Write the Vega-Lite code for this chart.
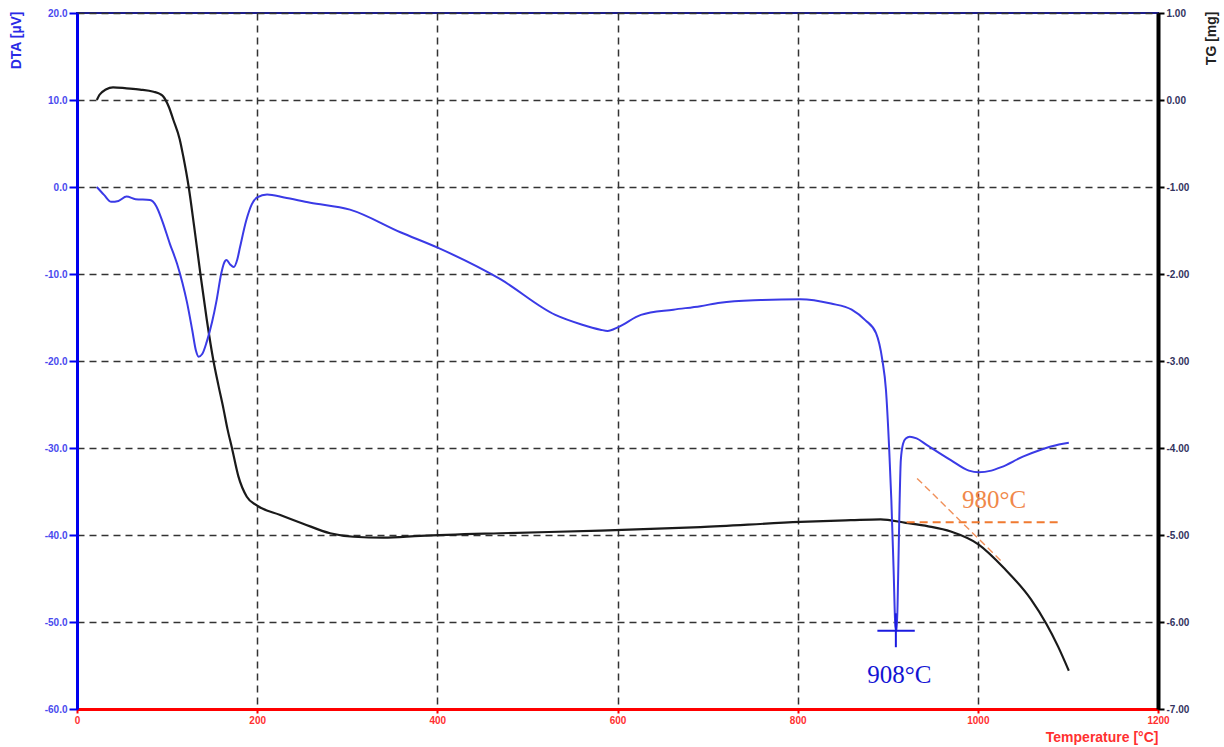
{
  "$schema": "https://vega.github.io/schema/vega-lite/v6.json",
  "width": 1081,
  "height": 696,
  "autosize": {"type": "none"},
  "padding": {"left": 77, "top": 13, "right": 66, "bottom": 38},
  "background": "white",
  "config": {
    "view": {"stroke": "#1c1c8a", "strokeWidth": 2},
    "font": "Liberation Sans"
  },
  "datasets": {
    "dta": [
      {"T": 22, "v": 0.0}, {"T": 30, "v": -0.9}, {"T": 38, "v": -1.7}, {"T": 46, "v": -1.6},
      {"T": 55, "v": -1.1}, {"T": 65, "v": -1.4}, {"T": 81, "v": -1.5}, {"T": 88, "v": -2.2},
      {"T": 95, "v": -4.0}, {"T": 103, "v": -6.5}, {"T": 111, "v": -8.8}, {"T": 117, "v": -11.0},
      {"T": 122, "v": -13.2}, {"T": 128, "v": -16.5}, {"T": 132, "v": -18.8}, {"T": 135, "v": -19.5},
      {"T": 139, "v": -19.2}, {"T": 144, "v": -17.8}, {"T": 150, "v": -15.5}, {"T": 155, "v": -13.0},
      {"T": 160, "v": -10.0}, {"T": 163, "v": -8.8}, {"T": 166, "v": -8.4}, {"T": 170, "v": -8.9},
      {"T": 174, "v": -9.2}, {"T": 178, "v": -8.3}, {"T": 181, "v": -6.9}, {"T": 188, "v": -3.8},
      {"T": 194, "v": -2.0}, {"T": 200, "v": -1.2}, {"T": 211, "v": -0.85}, {"T": 230, "v": -1.2},
      {"T": 259, "v": -1.8}, {"T": 303, "v": -2.6}, {"T": 359, "v": -5.2}, {"T": 401, "v": -7.0},
      {"T": 470, "v": -10.6}, {"T": 531, "v": -14.7}, {"T": 560, "v": -15.8}, {"T": 581, "v": -16.4},
      {"T": 589, "v": -16.55}, {"T": 601, "v": -16.1}, {"T": 626, "v": -14.7}, {"T": 662, "v": -14.1},
      {"T": 692, "v": -13.7}, {"T": 714, "v": -13.3}, {"T": 759, "v": -13.0}, {"T": 803, "v": -12.9},
      {"T": 837, "v": -13.4}, {"T": 860, "v": -14.1}, {"T": 875, "v": -15.3}, {"T": 887, "v": -16.8},
      {"T": 894, "v": -19.9}, {"T": 898, "v": -23.3}, {"T": 901.5, "v": -29.9}, {"T": 904, "v": -36},
      {"T": 906.5, "v": -44}, {"T": 908.5, "v": -50.5}, {"T": 910, "v": -51.0}, {"T": 911.5, "v": -45},
      {"T": 913, "v": -37}, {"T": 914.5, "v": -31.4}, {"T": 917, "v": -29.5}, {"T": 920, "v": -28.9},
      {"T": 924.5, "v": -28.7}, {"T": 932, "v": -28.9}, {"T": 944, "v": -29.7}, {"T": 970, "v": -31.4},
      {"T": 990, "v": -32.6}, {"T": 1001, "v": -32.8}, {"T": 1015, "v": -32.6}, {"T": 1026, "v": -32.2},
      {"T": 1050, "v": -31.0}, {"T": 1070, "v": -30.2}, {"T": 1090, "v": -29.6}, {"T": 1101, "v": -29.4}
    ],
    "tg": [
      {"T": 22, "v": 0.0}, {"T": 25, "v": 0.06}, {"T": 32, "v": 0.12}, {"T": 40, "v": 0.146},
      {"T": 55, "v": 0.134}, {"T": 70, "v": 0.12}, {"T": 85, "v": 0.095}, {"T": 92, "v": 0.07},
      {"T": 96, "v": 0.038}, {"T": 102, "v": -0.08}, {"T": 107, "v": -0.23}, {"T": 114, "v": -0.45},
      {"T": 118, "v": -0.65}, {"T": 124, "v": -1.0}, {"T": 130, "v": -1.45}, {"T": 137, "v": -2.0},
      {"T": 144, "v": -2.52}, {"T": 151.5, "v": -3.0}, {"T": 157, "v": -3.28}, {"T": 162.6, "v": -3.55},
      {"T": 167, "v": -3.78}, {"T": 172, "v": -4.0}, {"T": 179, "v": -4.32}, {"T": 188.5, "v": -4.56},
      {"T": 199.6, "v": -4.66}, {"T": 225.6, "v": -4.77}, {"T": 251, "v": -4.87}, {"T": 281, "v": -4.98},
      {"T": 307, "v": -5.02}, {"T": 340, "v": -5.03}, {"T": 381, "v": -5.01}, {"T": 470, "v": -4.98},
      {"T": 581, "v": -4.95}, {"T": 692, "v": -4.91}, {"T": 803, "v": -4.85}, {"T": 859, "v": -4.83},
      {"T": 892, "v": -4.82}, {"T": 920, "v": -4.86}, {"T": 945, "v": -4.9}, {"T": 970, "v": -4.96},
      {"T": 1001, "v": -5.11}, {"T": 1029, "v": -5.38}, {"T": 1059, "v": -5.74},
      {"T": 1076, "v": -6.02}, {"T": 1089, "v": -6.28}, {"T": 1101, "v": -6.56}
    ],
    "orange": [
      {"x1": 921, "x2": 1092, "y1": -4.854, "y2": -4.854, "kind": "h"},
      {"x1": 932.6, "x2": 1027, "y1": -4.35, "y2": -5.31, "kind": "d"}
    ],
    "cross": [
      {"x1": 888.5, "x2": 930, "y1": -51.0, "y2": -51.0},
      {"x1": 909, "x2": 909, "y1": -49.0, "y2": -52.9}
    ],
    "lbl908": [{"T": 913, "v": -56.1, "label": "908°C"}],
    "lbl980": [{"T": 1018, "v": -4.6, "label": "980°C"}]
  },
  "layer": [
    {
      "data": {"name": "tg"},
      "mark": {"type": "line", "color": "#1a1a1a", "strokeWidth": 2.2, "interpolate": "monotone"},
      "encoding": {
        "x": {
          "field": "T", "type": "quantitative",
          "scale": {"domain": [0, 1200], "nice": false},
          "axis": {
            "orient": "bottom",
            "values": [0, 200, 400, 600, 800, 1000, 1200],
            "format": "d",
            "labelFlush": false,
            "labelColor": "#ff3030", "labelFontWeight": "bold", "labelFontSize": 10,
            "labelPadding": 2, "labelFont": "Liberation Sans",
            "domainColor": "#ff0000", "domainWidth": 3,
            "tickColor": "#ff0000", "tickSize": 4, "tickWidth": 2,
            "grid": true, "gridColor": "#333333", "gridDash": [7, 5], "gridWidth": 1.5,
            "title": "Temperature [°C]", "titleColor": "#ff3030", "titleFontSize": 14,
            "titleFontWeight": "bold", "titleFont": "Liberation Sans",
            "titleAnchor": "end", "titleAlign": "right", "titleBaseline": "middle",
            "titleX": 1081, "titleY": 28
          }
        },
        "y": {
          "field": "v", "type": "quantitative",
          "scale": {"domain": [-7, 1], "nice": false, "zero": false},
          "axis": {
            "orient": "right",
            "values": [-7, -6, -5, -4, -3, -2, -1, 0, 1],
            "labelExpr": "replace(format(datum.value, '.2f'), '−', '-')",
            "labelColor": "#33335e", "labelFontWeight": "bold", "labelFontSize": 10,
            "labelFont": "Liberation Sans", "labelPadding": 2,
            "domainColor": "#000000", "domainWidth": 4,
            "tickColor": "#000000", "tickSize": 6, "tickWidth": 2,
            "grid": false,
            "title": "TG [mg]", "titleColor": "#222222", "titleFontSize": 14,
            "titleFontWeight": "bold", "titleFont": "Liberation Sans",
            "titleAngle": 270, "titleAlign": "right", "titleBaseline": "middle",
            "titleX": 53, "titleY": -2
          }
        }
      }
    },
    {
      "data": {"name": "dta"},
      "mark": {"type": "line", "color": "#3a3ae6", "strokeWidth": 2, "interpolate": "monotone"},
      "encoding": {
        "x": {"field": "T", "type": "quantitative", "scale": {"domain": [0, 1200], "nice": false}},
        "y": {
          "field": "v", "type": "quantitative",
          "scale": {"domain": [-60, 20], "nice": false, "zero": false},
          "axis": {
            "orient": "left",
            "values": [-60, -50, -40, -30, -20, -10, 0, 10, 20],
            "labelExpr": "replace(format(datum.value, '.1f'), '−', '-')",
            "labelColor": "#4a4aee", "labelFontWeight": "bold", "labelFontSize": 10,
            "labelFont": "Liberation Sans", "labelPadding": 2,
            "domainColor": "#0000ee", "domainWidth": 3,
            "tickColor": "#0000ee", "tickSize": 8, "tickWidth": 2,
            "grid": true, "gridColor": "#333333", "gridDash": [7, 5], "gridWidth": 1.5,
            "title": "DTA [µV]", "titleColor": "#2a2ae6", "titleFontSize": 14,
            "titleFontWeight": "bold", "titleFont": "Liberation Sans",
            "titleAngle": 270, "titleAlign": "right", "titleBaseline": "middle",
            "titleX": -61, "titleY": -2
          }
        }
      }
    },
    {
      "data": {"name": "orange"},
      "transform": [{"filter": "datum.kind === 'h'"}],
      "mark": {"type": "rule", "color": "#f07a30", "strokeWidth": 2, "strokeDash": [8, 5]},
      "encoding": {
        "x": {"field": "x1", "type": "quantitative", "scale": {"domain": [0, 1200], "nice": false}},
        "x2": {"field": "x2"},
        "y": {"field": "y1", "type": "quantitative", "scale": {"domain": [-7, 1], "nice": false, "zero": false}, "axis": null},
        "y2": {"field": "y2"}
      }
    },
    {
      "data": {"name": "orange"},
      "transform": [{"filter": "datum.kind === 'd'"}],
      "mark": {"type": "rule", "color": "#f0905a", "strokeWidth": 1.4, "strokeDash": [7, 4]},
      "encoding": {
        "x": {"field": "x1", "type": "quantitative", "scale": {"domain": [0, 1200], "nice": false}},
        "x2": {"field": "x2"},
        "y": {"field": "y1", "type": "quantitative", "scale": {"domain": [-7, 1], "nice": false, "zero": false}, "axis": null},
        "y2": {"field": "y2"}
      }
    },
    {
      "data": {"name": "lbl980"},
      "mark": {"type": "text", "font": "Liberation Serif", "fontSize": 25, "color": "#f0884a", "align": "center", "baseline": "middle"},
      "encoding": {
        "x": {"field": "T", "type": "quantitative", "scale": {"domain": [0, 1200], "nice": false}},
        "y": {"field": "v", "type": "quantitative", "scale": {"domain": [-7, 1], "nice": false, "zero": false}, "axis": null},
        "text": {"field": "label"}
      }
    },
    {
      "data": {"name": "cross"},
      "mark": {"type": "rule", "color": "#1a1ae0", "strokeWidth": 2},
      "encoding": {
        "x": {"field": "x1", "type": "quantitative", "scale": {"domain": [0, 1200], "nice": false}},
        "x2": {"field": "x2"},
        "y": {"field": "y1", "type": "quantitative", "scale": {"domain": [-60, 20], "nice": false, "zero": false}, "axis": null},
        "y2": {"field": "y2"}
      }
    },
    {
      "data": {"name": "lbl908"},
      "mark": {"type": "text", "font": "Liberation Serif", "fontSize": 25, "color": "#1414d4", "align": "center", "baseline": "middle"},
      "encoding": {
        "x": {"field": "T", "type": "quantitative", "scale": {"domain": [0, 1200], "nice": false}},
        "y": {"field": "v", "type": "quantitative", "scale": {"domain": [-60, 20], "nice": false, "zero": false}, "axis": null},
        "text": {"field": "label"}
      }
    }
  ],
  "resolve": {"scale": {"y": "independent"}, "axis": {"y": "independent"}}
}
